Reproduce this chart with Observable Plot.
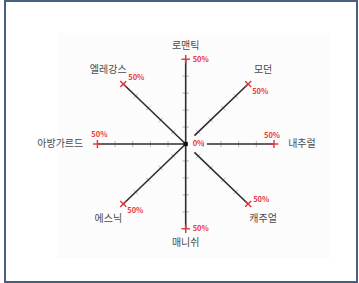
<!DOCTYPE html>
<html>
<head>
<meta charset="utf-8">
<script src="https://cdn.jsdelivr.net/npm/d3@7"></script>
<script src="https://cdn.jsdelivr.net/npm/@observablehq/plot@0.6"></script>
<style>
  html, body { margin: 0; padding: 0; background: #fff; }
  #wrap { position: relative; width: 359px; height: 283px; overflow: hidden; }
  #panel { position: absolute; left: 57px; top: 33px; width: 274px; height: 225px; background: #fcfcfc; }
  #border { position: absolute; left: 4px; top: 0px; width: 350px; height: 279px; border: 2px solid #4a5f7e; }
  #chart { position: absolute; left: 0; top: 0; }
</style>
</head>
<body>
<div id="wrap">
  <div id="panel"></div>
  <div id="chart"></div>
  <div id="border"></div>
</div>
<script>
// ---- data ----
const categories = ["로맨틱", "모던", "내추럴", "캐주얼", "매니쉬", "에스닉", "아방가르드", "엘레강스"];
const angles = [0, 45, 90, 135, 180, 225, 270, 315];   // degrees, clockwise from top
const axisStarts = [0, 7, 12, 7, 0, 0, 0, 0];          // where each drawn axis line begins (%)
const maxValue = 50;
const tickValues = [10, 20, 30, 40];
const maxLabel = "50%";
const centerLabel = "0%";

// ---- derived tables ----
const rad = a => a * Math.PI / 180;
const axes = categories.map((name, i) => {
  const t = rad(angles[i]);
  return {name, angle: angles[i], s: Math.sin(t), c: Math.cos(t), start: axisStarts[i]};
});

const axisLines = axes.map(a => ({
  x1: a.s * a.start, y1: a.c * a.start, x2: a.s * maxValue, y2: a.c * maxValue
}));

const tickLen = 1.8;
const ticks = [];
axes.forEach(a => tickValues.forEach(v => {
  const px = a.c, py = -a.s;
  ticks.push({
    x1: a.s * v + px * tickLen, y1: a.c * v + py * tickLen,
    x2: a.s * v - px * tickLen, y2: a.c * v - py * tickLen
  });
}));

const crossLen = 2.4;
const crosses = [];
axes.forEach(a => {
  const px = a.c, py = -a.s;
  crosses.push({
    x1: a.s * maxValue + px * crossLen, y1: a.c * maxValue + py * crossLen,
    x2: a.s * maxValue - px * crossLen, y2: a.c * maxValue - py * crossLen
  });
  crosses.push({
    x1: a.s * (maxValue - 2.5), y1: a.c * (maxValue - 2.5),
    x2: a.s * (maxValue + 2.5), y2: a.c * (maxValue + 2.5)
  });
});

const catLabels = axes.map(a => {
  const r = a.angle % 90 === 0 ? 58 : 62;
  let anchor = "middle";
  if (a.angle === 90) anchor = "start";
  if (a.angle === 270) anchor = "end";
  return {name: a.name, x: a.s * r, y: a.c * r, anchor};
});

// offsets (px) for the red max labels by direction
const maxLabelOffset = {
  0: {dx: 7, dy: 0, anchor: "start"},
  45: {dx: 4, dy: 8, anchor: "start"},
  90: {dx: -2, dy: -8, anchor: "middle"},
  135: {dx: 5, dy: -4, anchor: "start"},
  180: {dx: 7, dy: 0, anchor: "start"},
  225: {dx: 4, dy: 7, anchor: "start"},
  270: {dx: 2, dy: -9, anchor: "middle"},
  315: {dx: 5, dy: -6, anchor: "start"}
};
const maxLabels = axes.map(a => ({
  label: maxLabel, x: a.s * maxValue, y: a.c * maxValue, angle: a.angle
}));

const cx = 185.2, cy = 143.5, rx = 88.3, ry = 84.8;
const font = "'Noto Sans CJK KR', 'Noto Sans', sans-serif";

const marks = [
  Plot.link(ticks, {x1: "x1", y1: "y1", x2: "x2", y2: "y2", stroke: "#b5b5b5", strokeWidth: 1}),
  Plot.link(axisLines, {x1: "x1", y1: "y1", x2: "x2", y2: "y2", stroke: "#2e2e2e", strokeWidth: 1.6}),
  Plot.link(crosses, {x1: "x1", y1: "y1", x2: "x2", y2: "y2", stroke: "#e0343a", strokeWidth: 1.4}),
  Plot.dot([{x: 0, y: 0}], {x: "x", y: "y", symbol: "square", r: 2.4, fill: "#111"}),
  ...["start", "middle", "end"].map(anc =>
    Plot.text(catLabels.filter(d => d.anchor === anc), {x: "x", y: "y", text: "name", textAnchor: anc,
      fill: "#4a4a4a", fontSize: 10, fontFamily: font})),
  ...maxLabels.map(d => {
    const o = maxLabelOffset[d.angle];
    return Plot.text([d], {x: "x", y: "y", text: "label", dx: o.dx, dy: o.dy, textAnchor: o.anchor,
       fill: "#e8383e", fontSize: 7.5, fontWeight: "bold", fontFamily: font});
  }),
  Plot.text([{x: 0, y: 0, label: centerLabel}], {x: "x", y: "y", text: "label", dx: 7, textAnchor: "start",
    fill: "#e8383e", fontSize: 7.5, fontWeight: "bold", fontFamily: font})
];

const chart = Plot.plot({
  width: 359,
  height: 283,
  margin: 0,
  style: {background: "transparent", overflow: "visible"},
  x: {type: "linear", domain: [-maxValue, maxValue], range: [cx - rx, cx + rx], axis: null},
  y: {type: "linear", domain: [-maxValue, maxValue], range: [cy + ry, cy - ry], axis: null},
  marks
});
document.getElementById("chart").appendChild(chart);
</script>
</body>
</html>
